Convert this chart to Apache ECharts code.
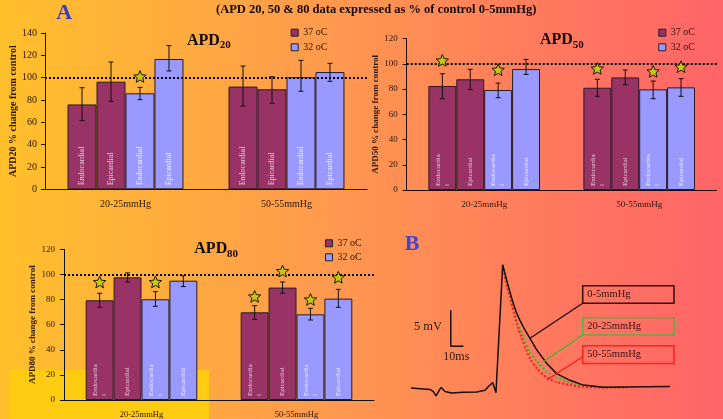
<!DOCTYPE html>
<html><head><meta charset="utf-8">
<script src="https://cdn.jsdelivr.net/npm/echarts@6/dist/echarts.min.js"></script>
<style>html,body{margin:0;padding:0;background:#fff;}#c{width:723px;height:419px;}</style>
</head><body><div id="c"></div>
<script>
// ---------- data ----------
const categories = ['20-25mmHg', '50-55mmHg'];
const legendNames = ['37 oC', '32 oC'];
const barLabels20 = ['Endocardial', 'Epicardial', 'Endocardial', 'Epicardial'];
const barLabels5080 = ['Endocardia\nl', 'Epicardial', 'Endocardia\nl', 'Epicardial'];
const yTicks20 = [0, 140, 20];
const yTicks5080 = [0, 120, 20];
const panelSubs = ['20', '50', '80'];

// APD20 (order of bars: Endo 37, Epi 37, Endo 32, Epi 32)
const apd20Endo37 = [76, 92];
const apd20Epi37 = [96.4, 89.6];
const apd20Endo32 = [86, 100.3];
const apd20Epi32 = [116.7, 105];
const apd20Err = [
  [[61.5, 91], [74.6, 110.4]],
  [[78.8, 114], [77, 100.9]],
  [[80.3, 91.3], [87.8, 115.5]],
  [[106, 128.7], [96.7, 112.8]]
];
const apd20Stars = [[0, 2, 100.5]];

// APD50
const apd50Endo37 = [82.5, 81.1];
const apd50Epi37 = [87.8, 89.3];
const apd50Endo32 = [79.3, 79.8];
const apd50Epi32 = [95.9, 81.4];
const apd50Err = [
  [[72.4, 92.2], [74.3, 87.8]],
  [[79.6, 95.7], [83.5, 95.2]],
  [[73.2, 84.8], [72.4, 86.4]],
  [[91.7, 103.6], [74.3, 88.3]]
];
const apd50Stars = [[0, 0, 102.3], [0, 2, 94.9], [1, 0, 95.9], [1, 2, 93.6], [1, 3, 97.3]];

// APD80
const apd80Endo37 = [79.4, 69.8];
const apd80Epi37 = [97.7, 89.5];
const apd80Endo32 = [80.2, 68.2];
const apd80Epi32 = [95, 80.7];
const apd80Err = [
  [[73.8, 85], [64.2, 75.1]],
  [[94, 101.2], [85, 94]],
  [[74.6, 86.3], [63.7, 73]],
  [[90.3, 99], [73.8, 88.1]]
];
const apd80Stars = [[0, 0, 93.5], [0, 2, 93.5], [1, 0, 82], [1, 1, 102.2], [1, 2, 79.6], [1, 3, 97.2]];

// Panel B: action potential traces (time ms, mV from baseline)
const traceLabels = ['0-5mmHg', '20-25mmHg', '50-55mmHg'];
const blackT = [0, 15, 17.6, 19.7, 23.6, 26.8, 32, 41.2, 51.7, 58.3, 61, 64.3, 66.9, 72.2, 73.8, 75.3, 77.3, 79.3, 81.2, 83.2, 85.8, 88.4, 91, 93.7, 99, 106.9, 114.7, 125.2, 135.7, 151.4, 170, 204];
const blackV = [0, -0.2, -0.5, -1.1, 0.1, -0.5, -0.7, -0.6, -0.55, -0.3, 0.2, 0.75, -0.65, 17.1, 16.0, 15.0, 13.7, 12.5, 11.4, 10.4, 9.4, 8.5, 7.7, 6.9, 5.3, 3.4, 2.0, 1.07, 0.4, 0.1, 0.15, 0.2];
const greenT = [72.2, 75.3, 79.3, 83.2, 88.4, 93.7, 99, 106.9, 114.7, 125.2, 135.7, 151.4, 170];
const greenV = [17.1, 14.9, 12.0, 9.4, 7.1, 5.0, 3.75, 2.27, 1.44, 0.74, 0.3, 0.12, 0.12];
const redT = [72.2, 74.8, 78.0, 83.2, 88.4, 93.7, 99, 106.9, 114.7, 125.2, 135.7, 151.4, 170];
const redV = [17.1, 14.6, 12.5, 9.0, 6.3, 4.1, 2.73, 1.44, 0.83, 0.42, 0.14, 0.05, 0.08];
const scaleBarT = [31.3, 31.3, 41.3];
const scaleBarV = [10.8, 5.8, 5.8];

// ---------- style ----------
const FONT = "'Liberation Serif','Times New Roman',serif";
const TXT = '#2a1810';
const C37 = '#993366';
const C32 = '#9999FF';
const GAP = 0.28;

function zip(a, b) { return a.map((v, i) => [v, b[i]]); }

function barCenterX(api, cat, bi) {
  const band = api.size([1, 0])[0];
  const gw = band * (1 - GAP);
  const bw = gw / 4;
  return api.coord([cat, 0])[0] - gw / 2 + (bi + 0.5) * bw;
}
function errRender(params, api) {
  const cat = api.value(0), bi = api.value(1);
  const x = barCenterX(api, cat, bi);
  const y1 = api.coord([cat, api.value(2)])[1];
  const y2 = api.coord([cat, api.value(3)])[1];
  const st = { stroke: '#111', lineWidth: 1 };
  return { type: 'group', children: [
    { type: 'line', shape: { x1: x, y1: y1, x2: x, y2: y2 }, style: st },
    { type: 'line', shape: { x1: x - 2.5, y1: y1, x2: x + 2.5, y2: y1 }, style: st },
    { type: 'line', shape: { x1: x - 2.5, y1: y2, x2: x + 2.5, y2: y2 }, style: st }
  ] };
}
function starRender(params, api) {
  const cat = api.value(0), bi = api.value(1);
  const x = barCenterX(api, cat, bi);
  const y = api.coord([cat, api.value(2)])[1];
  const R = 6.5, r = 2.9, pts = [];
  for (let i = 0; i < 10; i++) {
    const a = -Math.PI / 2 + i * Math.PI / 5;
    const rr = i % 2 ? r : R;
    pts.push([x + rr * Math.cos(a), y + rr * Math.sin(a)]);
  }
  return { type: 'polygon', shape: { points: pts }, style: { fill: '#C8C810', stroke: '#1a1a00', lineWidth: 1 } };
}

function panelSeries(k, vals, errs, stars, labels, labelSize) {
  const out = [];
  const colors = [C37, C37, C32, C32];
  const names = [legendNames[0], legendNames[0], legendNames[1], legendNames[1]];
  vals.forEach((v, i) => {
    const s = {
      type: 'bar', name: names[i], xAxisIndex: k, yAxisIndex: k, data: v,
      barGap: '0%', barCategoryGap: (GAP * 100) + '%',
      itemStyle: { color: colors[i], borderColor: '#2a1a22', borderWidth: 1 },
      label: { show: true, position: 'insideBottom', rotate: 90, align: 'left', verticalAlign: 'middle',
        distance: 4, formatter: labels[i], color: i < 2 ? '#E6C8D8' : '#EEEAFF', fontSize: labelSize, lineHeight: labelSize + 2, fontFamily: FONT },
      silent: true
    };
    if (i === 0) {
      s.markLine = { silent: true, symbol: 'none', label: { show: false },
        lineStyle: { type: [2, 2], color: '#000', width: 2 }, data: [{ yAxis: 100 }] };
    }
    out.push(s);
  });
  const errData = [];
  errs.forEach((e, bi) => e.forEach((lh, cat) => errData.push([cat, bi, lh[0], lh[1]])));
  out.push({ type: 'custom', xAxisIndex: k, yAxisIndex: k, data: errData, encode: { x: 0, y: [2, 3] }, renderItem: errRender, z: 4, silent: true });
  out.push({ type: 'custom', xAxisIndex: k, yAxisIndex: k, data: stars, encode: { x: 0, y: 2 }, renderItem: starRender, z: 6, silent: true });
  return out;
}

function catAxis(k, fontSize, margin) {
  return { type: 'category', gridIndex: k, data: categories,
    axisLine: { lineStyle: { color: '#111', width: 1 } },
    axisTick: { length: 4, lineStyle: { color: '#111' } },
    axisLabel: { fontSize: fontSize, fontFamily: FONT, color: TXT, margin: margin },
    splitLine: { show: false } };
}
function valAxis(k, ticks, name, nameSize, nameGap, fontSize, margin) {
  return { type: 'value', gridIndex: k, min: ticks[0], max: ticks[1], interval: ticks[2],
    name: name, nameLocation: 'middle', nameGap: nameGap, nameRotate: 90,
    nameTextStyle: { fontSize: nameSize, fontWeight: 'bold', fontFamily: FONT, color: TXT },
    axisLine: { show: true, lineStyle: { color: '#111', width: 1 } },
    axisTick: { show: true, length: 4, lineStyle: { color: '#111' } },
    axisLabel: { fontSize: fontSize, fontFamily: FONT, color: TXT, margin: margin },
    splitLine: { show: false } };
}
function legendAt(left, top, gap) {
  return { data: legendNames, left: left, top: top, orient: 'vertical', padding: 0,
    itemWidth: 7, itemHeight: 7, itemGap: gap, icon: 'rect', selectedMode: false,
    itemStyle: { borderColor: '#222', borderWidth: 1 },
    textStyle: { fontSize: 10, fontFamily: FONT, color: TXT, lineHeight: 12 } };
}
function gtext(text, x, y, font, fill, align) {
  return { type: 'text', x: x, y: y, silent: true, z: 10,
    style: { text: text, font: font, fill: fill, align: align || 'left', verticalAlign: 'middle',
      textAlign: align || 'left', textVerticalAlign: 'middle' } };
}
function gline(x1, y1, x2, y2, color) {
  return { type: 'line', silent: true, z: 10, shape: { x1: x1, y1: y1, x2: x2, y2: y2 }, style: { stroke: color, lineWidth: 1.3 } };
}
function gbox(x, y, w, h, color) {
  return { type: 'rect', silent: true, z: 10, shape: { x: x, y: y, width: w, height: h }, style: { fill: 'none', stroke: color, lineWidth: 1.5 } };
}
function apdTitle(sub, x, y, sx, sy) {
  return [gtext('APD', x, y, 'bold 16px ' + FONT, '#140a0a', 'left'),
          gtext(sub, sx, sy, 'bold 11px ' + FONT, '#140a0a', 'left')];
}

const chart = echarts.init(document.getElementById('c'));
const option = {
  animation: false,
  backgroundColor: { type: 'linear', x: 0, y: 0, x2: 1, y2: 0, colorStops: [
    { offset: 0, color: '#FFC02C' }, { offset: 0.45, color: '#FF9A4E' },
    { offset: 0.75, color: '#FF7A5E' }, { offset: 1, color: '#FF6468' } ] },
  title: [
    { text: '(APD 20, 50 & 80 data expressed as % of control 0-5mmHg)', left: 216, top: 3.5, padding: 0,
      textStyle: { fontSize: 12.5, fontWeight: 'bold', fontFamily: FONT, color: '#140a0a' } }
  ],
  legend: [legendAt(290.7, 26.7, 2.6), legendAt(658.3, 26.7, 2.6), legendAt(325, 237.3, 2)],
  grid: [
    { left: 45, top: 33, width: 322, height: 156.3 },
    { left: 406.7, top: 38.7, width: 310, height: 151.3 },
    { left: 64, top: 249.3, width: 310, height: 150.7 },
    { left: 411, top: 258.4, width: 260.35, height: 151.2 }
  ],
  xAxis: [
    catAxis(0, 10, 10),
    catAxis(1, 9, 10),
    catAxis(2, 8.5, 10),
    { type: 'value', gridIndex: 3, min: 0, max: 205, show: false }
  ],
  yAxis: [
    valAxis(0, yTicks20, 'APD20 % change from control', 10, 22, 10, 8),
    valAxis(1, yTicks5080, 'APD50 % change from control', 9, 20, 9, 9),
    valAxis(2, yTicks5080, 'APD80 % change from control', 9, 20.5, 9, 9),
    { type: 'value', gridIndex: 3, min: -3, max: 18, show: false }
  ],
  graphic: [
    { type: 'rect', silent: true, z: -10, shape: { x: 10, y: 370, width: 199, height: 49 }, style: { fill: '#FFCC12' } },
    gtext('A', 64.2, 13, 'bold 22px ' + FONT, '#3B3BC4', 'center'),
    gtext('B', 412.2, 244.5, 'bold 22px ' + FONT, '#4444CC', 'center'),
    gtext('5 mV', 442, 326.7, '12.5px ' + FONT, TXT, 'right'),
    gtext('10ms', 456.3, 357.3, '12px ' + FONT, TXT, 'center'),
    gbox(582.7, 285.7, 91.3, 17.6, '#2a1010'),
    gbox(582.7, 317.7, 91.3, 17.3, '#44BB44'),
    gbox(582.7, 345.7, 91.3, 17.7, '#FF2020'),
    gtext(traceLabels[0], 587.3, 294.5, '10.5px ' + FONT, '#331111', 'left'),
    gtext(traceLabels[1], 587.3, 326.3, '10.5px ' + FONT, '#331111', 'left'),
    gtext(traceLabels[2], 587.3, 354.5, '10.5px ' + FONT, '#331111', 'left'),
    gline(582.7, 303.3, 530, 338.3, '#1a0d0d'),
    gline(582.7, 335, 543.3, 361.7, '#33BB33'),
    gline(582.7, 356.7, 546.7, 380, '#FF1A1A')
  ].concat(
    apdTitle(panelSubs[0], 187, 40.8, 219.8, 45.5),
    apdTitle(panelSubs[1], 540, 39.5, 572.8, 44.8),
    apdTitle(panelSubs[2], 194.3, 249.2, 227.1, 254.5)
  ),
  series: [].concat(
    panelSeries(0, [apd20Endo37, apd20Epi37, apd20Endo32, apd20Epi32], apd20Err, apd20Stars, barLabels20, 8),
    panelSeries(1, [apd50Endo37, apd50Epi37, apd50Endo32, apd50Epi32], apd50Err, apd50Stars, barLabels5080, 7),
    panelSeries(2, [apd80Endo37, apd80Epi37, apd80Endo32, apd80Epi32], apd80Err, apd80Stars, barLabels5080, 7),
    [
      { type: 'line', xAxisIndex: 3, yAxisIndex: 3, data: zip(greenT, greenV), symbol: 'none', silent: true, smooth: 0.25,
        lineStyle: { color: '#33BB33', width: 2, type: [2, 2] }, z: 3 },
      { type: 'line', xAxisIndex: 3, yAxisIndex: 3, data: zip(redT, redV), symbol: 'none', silent: true, smooth: 0.25,
        lineStyle: { color: '#FF1A1A', width: 2, type: [2, 2] }, z: 3 },
      { type: 'line', xAxisIndex: 3, yAxisIndex: 3, data: zip(blackT, blackV), symbol: 'none', silent: true,
        lineStyle: { color: '#1a0d0d', width: 1.5 }, z: 4 },
      { type: 'line', xAxisIndex: 3, yAxisIndex: 3, data: zip(scaleBarT, scaleBarV), symbol: 'none', silent: true,
        lineStyle: { color: '#1a0d0d', width: 1.5 }, z: 4 }
    ]
  )
};
chart.setOption(option);
</script>
</body></html>
